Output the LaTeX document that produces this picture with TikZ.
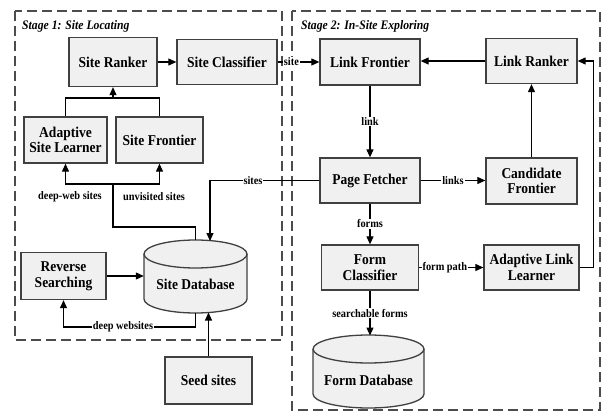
\documentclass[tikz,border=0pt]{standalone}
\usepackage{fontspec}
\setmainfont[FakeStretch=0.9]{Liberation Serif}
\usetikzlibrary{arrows.meta}
\begin{document}
\begin{tikzpicture}[x=1pt,y=-1pt,
 box/.style={draw=black!75, line width=1.3pt, fill=black!6, font=\fontsize{15}{15.5}\selectfont\bfseries, align=center, inner sep=1pt},
 cyltxt/.style={font=\fontsize{15}{15.5}\selectfont\bfseries, inner sep=1pt},
 cylfill/.style={draw=black!75, line width=1.3pt, fill=black!6},
 geo/.style={draw=none, inner sep=0pt},
 lbl/.style={font=\fontsize{11.5}{12}\selectfont\bfseries, fill=white, inner sep=1pt},
 plainlbl/.style={font=\fontsize{11.5}{12}\selectfont\bfseries, inner sep=1pt},
 arr/.style={-{Triangle[length=8pt,width=7pt]}, line width=1.1pt},
 ln/.style={line width=1.1pt},
 stage/.style={draw=black!70, line width=2.4pt, dash pattern=on 10pt off 5pt},
 ttl/.style={font=\fontsize{13}{14}\selectfont\bfseries\itshape, anchor=west, inner sep=1pt}]

\useasboundingbox (0,0) rectangle (602,412);

% stage frames
\draw[stage] (15,11) rectangle (282,340);
\draw[stage] (292,11) rectangle (600,410);
\node[ttl] (t1) at (21,26) {Stage 1: Site Locating};
\node[ttl] (t2) at (300,26) {Stage 2: In-Site Exploring};

% stage 1 nodes
\node[box, minimum width=88pt, minimum height=49pt] (sr) at (113,62) {Site Ranker};
\node[box, minimum width=100pt, minimum height=45pt] (sc) at (227,62) {Site Classifier};
\node[box, minimum width=83pt, minimum height=46pt] (asl) at (65.5,140) {Adaptive\\Site Learner};
\node[box, minimum width=87pt, minimum height=46pt] (sf) at (159.5,140) {Site Frontier};
\node[box, minimum width=85pt, minimum height=47pt] (rs) at (63.5,276) {Reverse\\Searching};
\node[box, minimum width=87pt, minimum height=47pt] (seed) at (208.5,380.5) {Seed sites};

% site database cylinder
\path[cylfill] (144,254) -- (144,299) .. controls (144,306.7) and (167.1,313) .. (195.5,313)
  .. controls (223.9,313) and (247,306.7) .. (247,299) -- (247,254)
  .. controls (247,246.3) and (223.9,240) .. (195.5,240)
  .. controls (167.1,240) and (144,246.3) .. (144,254) -- cycle;
\draw[draw=black!75, line width=1.3pt] (144,254) .. controls (144,261.7) and (167.1,268) .. (195.5,268)
  .. controls (223.9,268) and (247,261.7) .. (247,254);
\node[geo, minimum width=103pt, minimum height=73pt] (sdb) at (195.5,276.5) {};
\node[cyltxt] (sdbt) at (195.5,284) {Site Database};

% form database cylinder
\path[cylfill] (313,349) -- (313,394) .. controls (313,401.7) and (337.9,408) .. (368.5,408)
  .. controls (399.1,408) and (424,401.7) .. (424,394) -- (424,349)
  .. controls (424,341.3) and (399.1,335) .. (368.5,335)
  .. controls (337.9,335) and (313,341.3) .. (313,349) -- cycle;
\draw[draw=black!75, line width=1.3pt] (313,349) .. controls (313,356.7) and (337.9,363) .. (368.5,363)
  .. controls (399.1,363) and (424,356.7) .. (424,349);
\node[geo, minimum width=111pt, minimum height=73pt] (fdb) at (368.5,371.5) {};
\node[cyltxt] (fdbt) at (368.5,380) {Form Database};

% stage 2 nodes
\node[box, minimum width=100pt, minimum height=46pt] (lf) at (370,62) {Link Frontier};
\node[box, minimum width=91pt, minimum height=45pt] (lr) at (531.5,61) {Link Ranker};
\node[box, minimum width=100pt, minimum height=45pt] (pf) at (370,180.5) {Page Fetcher};
\node[box, minimum width=91pt, minimum height=46pt] (cf) at (531.5,181) {Candidate\\Frontier};
\node[box, minimum width=97pt, minimum height=45pt] (fc) at (370,267.5) {Form\\Classifier};
\node[box, minimum width=95pt, minimum height=45pt] (all) at (531.5,267.5) {Adaptive Link\\Learner};

% helper coordinates
\coordinate (sdbin) at (210,241);
\coordinate (sdbup) at (195.5,240);
\coordinate (sdbbot) at (195.5,313);
\coordinate (sdbseed) at (208.5,312.5);
\coordinate (fdbtop) at (370,335.5);
\coordinate (j1) at (113,184);
\coordinate (j2) at (113,98);
\coordinate (k1) at (113,227);
\coordinate (k2) at (195.5,327);

% stage 1 connectors
\draw[ln] (asl.north) |- (j2);
\draw[ln] (sf.north) |- (j2);
\draw[arr] (j2) -- (sr.south);
\draw[arr] (sr.east) -- (sc.west);
\draw[arr] (j1) -| (asl.south);
\draw[arr] (j1) -| (sf.south);
\draw[ln] (sdbup) |- (k1) -- (j1);
\node[plainlbl] (l1) at (70,197) {deep-web sites};
\node[plainlbl] (l2) at (154,197) {unvisited sites};
\draw[arr] (rs.east) -- (rs.east -| sdb.west);
\draw[arr] (sdbbot) -- (k2) -| (rs.south);
\node[lbl] (l3) at (123,327) {deep websites};
\draw[arr] (seed.north) -- (seed.north |- sdbseed);

% stage 2 connectors
\draw[arr] (pf.west) -| (sdbin);
\node[lbl] (l4) at (253,180.5) {sites};
\draw[arr] (sc.east) -- (lf.west) node[lbl, pos=0.33] (l5) {site};
\draw[arr] (lr.west) -- (lr.west -| lf.east);
\draw[arr] (lf.south) -- (pf.north) node[lbl, midway] (l6) {link};
\draw[arr] (pf.east) -- (pf.east -| cf.west) node[lbl, midway] (l7) {links};
\draw[arr] (cf.north) -- (lr.south);
\draw[arr] (pf.south) -- (fc.north) node[lbl, midway] (l8) {forms};
\draw[arr] (fc.east) -- (all.west) node[lbl, pos=0.4] (l9) {form path};
\draw[arr] (all.east) -- ++(14,0) |- (lr.east);
\draw[arr] (fc.south) -- (fdbtop) node[lbl, midway] (l10) {searchable forms};
\end{tikzpicture}
\end{document}
